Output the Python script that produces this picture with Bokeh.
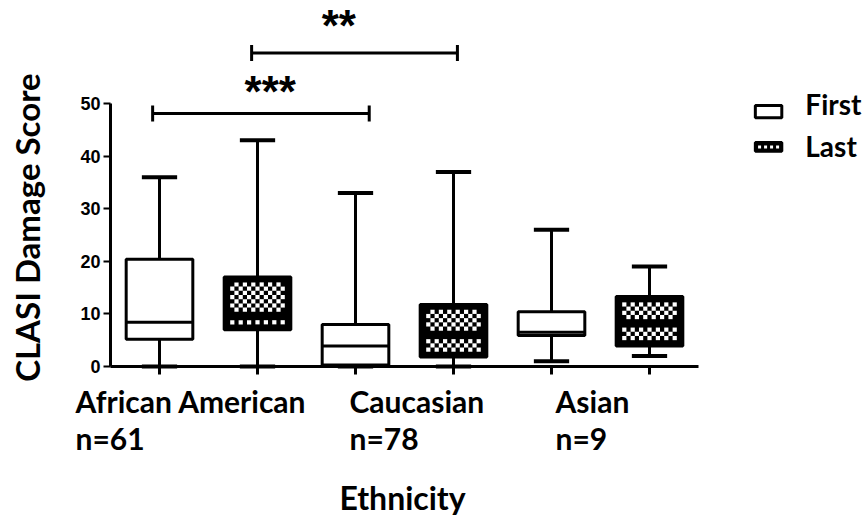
import numpy as np
from bokeh.plotting import figure
from bokeh.models import Label, FixedTicker
from bokeh.embed import file_html
from bokeh.resources import INLINE

# ---------------- data ----------------
positions = [0, 1, 2, 3, 4, 5]
timepoint = ["First", "Last", "First", "Last", "First", "Last"]
wmin = [0, 0, 0, 0, 1, 2]
q1 = [5.2, 7.0, 0.3, 1.8, 5.9, 3.9]
med = [8.4, 9.8, 3.9, 5.8, 6.5, 8.4]
q3 = [20.4, 17.0, 8.0, 11.8, 10.4, 13.3]
wmax = [36, 43, 33, 37, 26, 19]

group_labels = ["African American", "Caucasian", "Asian"]
group_n = ["n=61", "n=78", "n=9"]
group_label_x = [-0.857, 1.939, 4.041]

y_ticks = [0, 10, 20, 30, 40, 50]

sig_x0 = [-0.07, 0.94]
sig_x1 = [2.14, 3.04]
sig_y = [48.1, 59.6]
sig_text = ["***", "**"]
sig_text_x = [1.13, 1.83]
sig_text_y = [52.3, 64.9]

legend_names = ["First", "Last"]

# ---------------- figure (frame covers the whole canvas) ----------------
PX_X = 98.0     # px per x unit
PX_Y = 5.26     # px per y unit
W, H = 867, 516
AX_X_PX, AX_Y_PX = 110, 366      # where x=-0.5 and y=0 fall on the canvas
x_start = -0.5 - AX_X_PX / PX_X
x_end = x_start + W / PX_X
y_end = AX_Y_PX / PX_Y
y_start = -(H - AX_Y_PX) / PX_Y

p = figure(width=W, height=H, x_range=(x_start, x_end), y_range=(y_start, y_end),
           output_backend="svg", toolbar_location=None,
           min_border_left=0, min_border_bottom=0,
           min_border_top=0, min_border_right=0)
p.xgrid.visible = False
p.ygrid.visible = False
p.outline_line_color = None
p.background_fill_color = "white"
p.border_fill_color = "white"

# axes (drawn at fixed data locations inside the frame)
p.yaxis.fixed_location = -0.5
p.yaxis.ticker = FixedTicker(ticks=y_ticks)
p.yaxis.bounds = (0, 50)
p.yaxis.axis_line_width = 3
p.yaxis.major_tick_line_width = 2
p.yaxis.major_tick_out = 7
p.yaxis.major_tick_in = 0
p.yaxis.minor_tick_line_color = None
p.yaxis.major_label_text_font = "Liberation Sans"
p.yaxis.major_label_text_font_style = "bold"
p.yaxis.major_label_text_font_size = "18px"
p.yaxis.major_label_text_color = "black"
p.yaxis.major_label_standoff = 3

p.xaxis.fixed_location = 0
p.xaxis.ticker = FixedTicker(ticks=positions)
p.xaxis.bounds = (-0.5, 5.5)
p.xaxis.axis_line_width = 3
p.xaxis.major_tick_line_width = 3
p.xaxis.major_tick_out = 8
p.xaxis.major_tick_in = 0
p.xaxis.minor_tick_line_color = None
p.xaxis.major_label_overrides = {i: "" for i in positions}

# ---------------- boxes ----------------
half_box = 0.34
half_cap = 0.18
xs = np.array(positions, dtype=float)

# whiskers
p.segment(x0=xs, y0=q3, x1=xs, y1=wmax, line_color="black", line_width=3)
p.segment(x0=xs, y0=q1, x1=xs, y1=wmin, line_color="black", line_width=3)
p.segment(x0=xs - half_cap, y0=wmax, x1=xs + half_cap, y1=wmax, line_color="black", line_width=4)
p.segment(x0=xs - half_cap, y0=wmin, x1=xs + half_cap, y1=wmin, line_color="black", line_width=4)

first_idx = [i for i, t in enumerate(timepoint) if t == "First"]
last_idx = [i for i, t in enumerate(timepoint) if t == "Last"]

p.quad(left=[xs[i] - half_box for i in first_idx], right=[xs[i] + half_box for i in first_idx],
       bottom=[q1[i] for i in first_idx], top=[q3[i] for i in first_idx],
       fill_color="white", line_color="black", line_width=3)
p.quad(left=[xs[i] - half_box for i in last_idx], right=[xs[i] + half_box for i in last_idx],
       bottom=[q1[i] for i in last_idx], top=[q3[i] for i in last_idx],
       fill_color="black", line_color="black", line_width=3)


def checker(x0, x1, y0, y1, skip=None, inset_px=4.5, sq_px=4.2):
    """white squares of a checkerboard inside [x0,x1]x[y0,y1] (data units)"""
    L, R, B, T = [], [], [], []
    ix0 = x0 + inset_px / PX_X
    ix1 = x1 - inset_px / PX_X
    iy0 = y0 + inset_px / PX_Y
    iy1 = y1 - inset_px / PX_Y
    sw = sq_px / PX_X
    sh = sq_px / PX_Y
    ncol = int((ix1 - ix0) / sw)
    nrow = int((iy1 - iy0) / sh)
    ox = ix0 + ((ix1 - ix0) - ncol * sw) / 2
    oy = iy0 + ((iy1 - iy0) - nrow * sh) / 2
    for r in range(nrow):
        by = oy + r * sh
        ty = by + sh
        if skip is not None and (by < skip + 2.2 / PX_Y and ty > skip - 2.2 / PX_Y):
            continue
        for c in range(ncol):
            if (r + c) % 2 == 0:
                L.append(ox + c * sw)
                R.append(ox + (c + 1) * sw)
                B.append(by)
                T.append(ty)
    return L, R, B, T


cl, cr, cb, ct = [], [], [], []
for i in last_idx:
    l, r, b, t = checker(xs[i] - half_box, xs[i] + half_box, q1[i], q3[i], skip=med[i])
    cl += l; cr += r; cb += b; ct += t
p.quad(left=cl, right=cr, bottom=cb, top=ct, fill_color="white", line_color=None)

# medians
p.segment(x0=[xs[i] - half_box for i in first_idx], x1=[xs[i] + half_box for i in first_idx],
          y0=[med[i] for i in first_idx], y1=[med[i] for i in first_idx],
          line_color="black", line_width=3)
p.segment(x0=[xs[i] - half_box for i in last_idx], x1=[xs[i] + half_box for i in last_idx],
          y0=[med[i] for i in last_idx], y1=[med[i] for i in last_idx],
          line_color="black", line_width=3)

# ---------------- significance brackets ----------------
tick_h = 1.5
p.segment(x0=sig_x0, x1=sig_x1, y0=sig_y, y1=sig_y, line_color="black", line_width=3)
p.segment(x0=sig_x0, x1=sig_x0, y0=[y - tick_h for y in sig_y], y1=[y + tick_h for y in sig_y],
          line_color="black", line_width=3)
p.segment(x0=sig_x1, x1=sig_x1, y0=[y - tick_h for y in sig_y], y1=[y + tick_h for y in sig_y],
          line_color="black", line_width=3)
for tx, ty, tt in zip(sig_text_x, sig_text_y, sig_text):
    p.add_layout(Label(x=tx, y=ty, text=tt, text_align="center", text_baseline="alphabetic",
                       text_font="Liberation Sans", text_font_style="bold", text_font_size="44px",
                       text_color="black"))

# ---------------- legend (manual) ----------------
leg_x0, leg_x1 = 6.08, 6.35
sw_top = [49.6, 42.6]
sw_bot = [47.3, 40.9]
leg_text_y = [50.0, 42.0]
p.quad(left=[leg_x0], right=[leg_x1], bottom=[sw_bot[0]], top=[sw_top[0]],
       fill_color="white", line_color="black", line_width=3)
p.quad(left=[leg_x0], right=[leg_x1], bottom=[sw_bot[1]], top=[sw_top[1]],
       fill_color="black", line_color="black", line_width=3)
l, r, b, t = checker(leg_x0, leg_x1, sw_bot[1], sw_top[1], inset_px=1.5, sq_px=3)
p.quad(left=l, right=r, bottom=b, top=t, fill_color="white", line_color=None)
for name, yy in zip(legend_names, leg_text_y):
    p.add_layout(Label(x=6.59, y=yy, text=name, text_align="left", text_baseline="middle",
                       text_font="Lato", text_font_style="bold", text_font_size="28px",
                       text_color="black"))

# ---------------- category labels & axis titles ----------------
for gx, gl, gn in zip(group_label_x, group_labels, group_n):
    p.add_layout(Label(x=gx, y=-6.5, text=gl, text_align="left", text_baseline="middle",
                       text_font="Lato", text_font_style="bold", text_font_size="30px",
                       text_color="black"))
    p.add_layout(Label(x=gx, y=-13.6, text=gn, text_align="left", text_baseline="middle",
                       text_font="Lato", text_font_style="bold", text_font_size="30px",
                       text_color="black"))

p.add_layout(Label(x=2.48, y=-24.9, text="Ethnicity", text_align="center", text_baseline="middle",
                   text_font="Lato", text_font_style="bold", text_font_size="32px",
                   text_color="black"))
p.add_layout(Label(x=-1.35, y=26.4, text="CLASI Damage Score", angle=np.pi / 2,
                   text_align="center", text_baseline="middle",
                   text_font="Lato", text_font_style="bold", text_font_size="33px",
                   text_color="black"))

open("out.html", "w").write(file_html(p, INLINE))
